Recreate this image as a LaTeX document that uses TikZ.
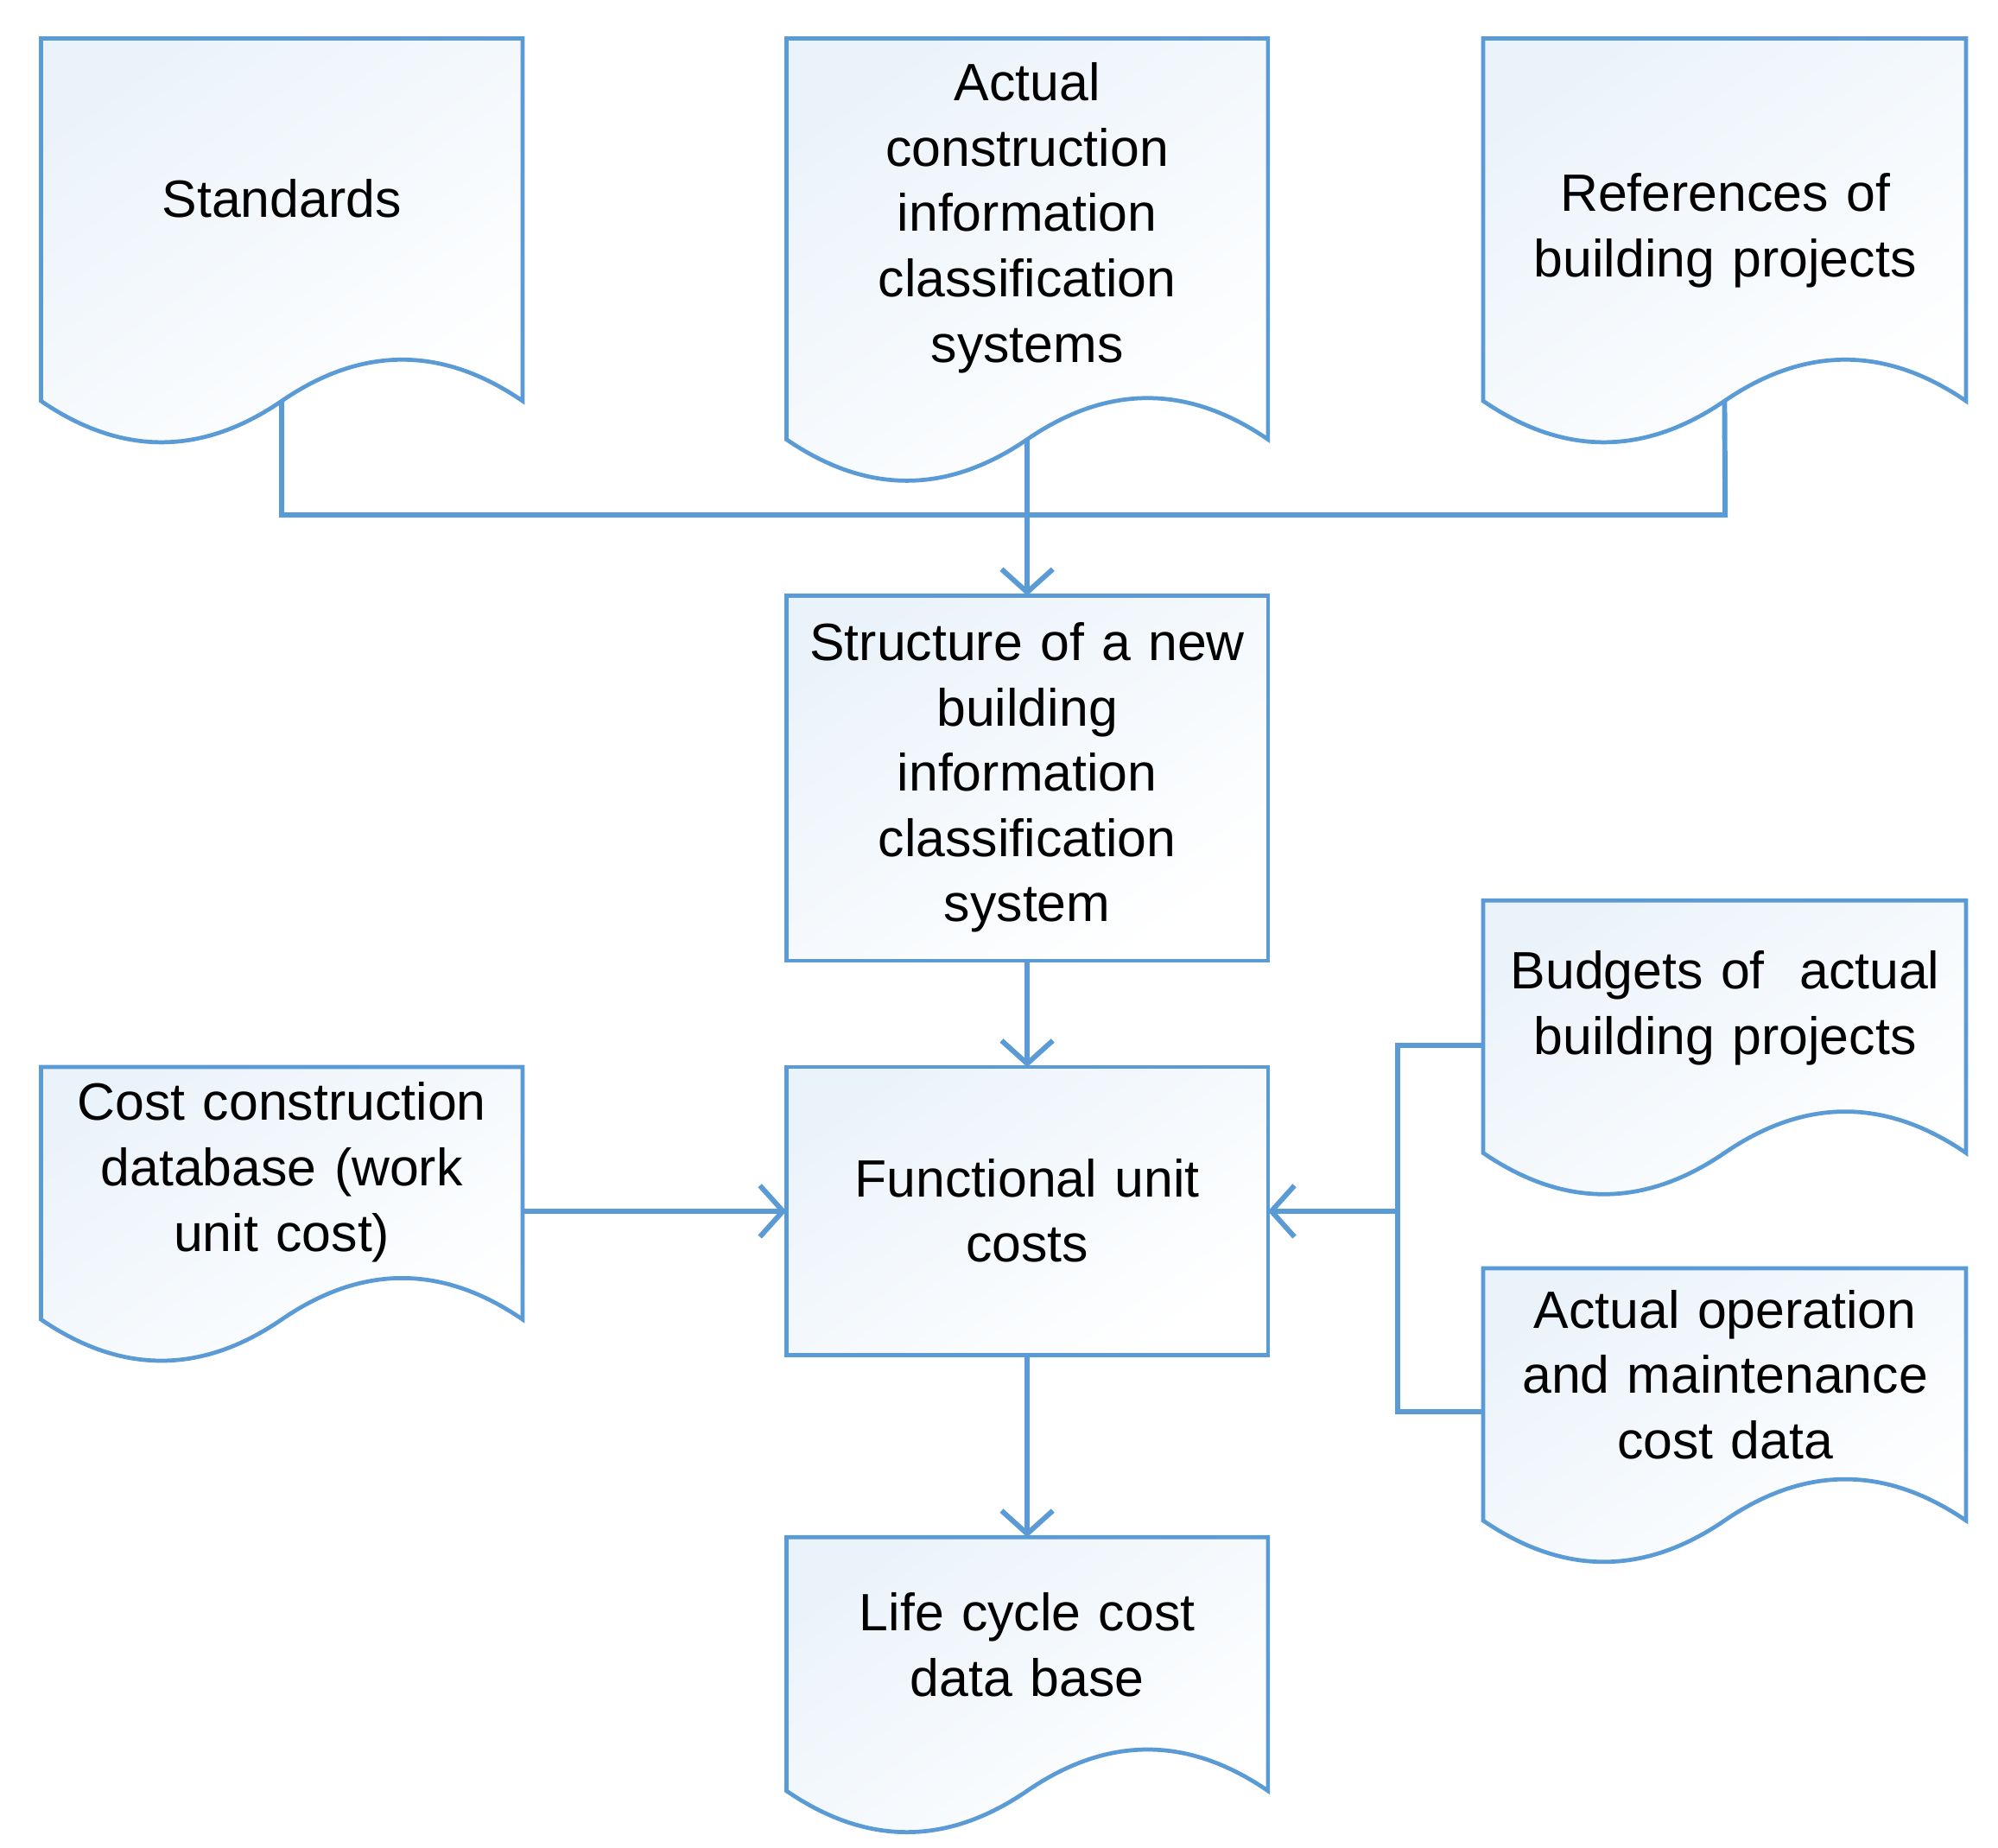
\documentclass[tikz,border=0pt]{standalone}
\usepackage{fontspec}
\setmainfont{Liberation Sans}
\usetikzlibrary{arrows.meta}
\definecolor{ln}{RGB}{91,155,213}
\tikzset{
  shp/.style={draw=ln,line width=1.6pt,shading=axis,top color=ln!12,bottom color=white,shading angle=35},
  txt/.style={align=center,font=\fontsize{20.5}{25.5}\selectfont,text width=175pt,inner sep=0pt},
  con/.style={draw=ln,line width=2pt},
  arr/.style={con,-{Straight Barb[length=9pt,width=20pt,line width=2pt]}}
}
% #1 name, #2 x0, #3 x1, #4 top, #5 yb
\newcommand{\docshp}[5]{%
  \pgfmathsetmacro{\xm}{(#2+#3)/2}%
  \pgfmathsetmacro{\qa}{#2+(#3-#2)/6}\pgfmathsetmacro{\qb}{#2+(#3-#2)/3}%
  \pgfmathsetmacro{\qc}{#2+2*(#3-#2)/3}\pgfmathsetmacro{\qd}{#2+5*(#3-#2)/6}%
  \path[shp] (#2,#4) -- (#3,#4) -- (#3,#5) .. controls (\qd,#5-43) and (\qc,#5-43) .. (\xm,#5)
     .. controls (\qb,#5+43) and (\qa,#5+43) .. (#2,#5) -- cycle;
  \coordinate (#1-w) at (\xm,#5);
  \coordinate (#1-top) at (\xm,#4);
  \coordinate (#1-l) at (#2,#4);
  \coordinate (#1-r) at (#3,#4);
}
% rectangle box: #1 name, #2 x0, #3 x1, #4 top, #5 bottom
\newcommand{\boxshp}[5]{%
  \path[shp] (#2,#4) rectangle (#3,#5);
  \pgfmathsetmacro{\xm}{(#2+#3)/2}\pgfmathsetmacro{\ym}{(#4+#5)/2}%
  \coordinate (#1-n) at (\xm,#4);
  \coordinate (#1-s) at (\xm,#5);
  \coordinate (#1-wst) at (#2,\ym);
  \coordinate (#1-est) at (#3,\ym);
}
\begin{document}
\begin{tikzpicture}[x=0.5pt,y=-0.5pt]
\useasboundingbox (0,0) rectangle (1560,1442);
\docshp{std}{32}{408}{30}{313}
\docshp{act}{614}{990}{30}{343}
\docshp{ref}{1158}{1535}{30}{313}
\docshp{ccd}{32}{408}{833}{1030}
\docshp{bud}{1158}{1535}{703}{900}
\docshp{aop}{1158}{1535}{990}{1187}
\docshp{lcc}{614}{990}{1200}{1398}
\boxshp{str}{614}{990}{465}{750}
\boxshp{fuc}{614}{990}{833}{1058}

\node[txt] (tstd) at (220,155) {Standards};
\node[txt] (tact) at (802,170) {Actual\\construction\\information\\classification\\systems};
\node[txt] (tref) at (1347,180) {References of\\building projects};
\node[txt] (tstr) at (802,607) {Structure of a new\\building\\information\\classification\\system};
\node[txt] (tfuc) at (802,945) {Functional unit\\costs};
\node[txt] (tccd) at (220,915) {Cost construction\\database (work\\unit cost)};
\node[txt] (tbud) at (1347,787) {Budgets of~~actual\\building projects};
\node[txt] (taop) at (1347,1073) {Actual operation\\and maintenance\\cost data};
\node[txt] (tlcc) at (802,1284) {Life cycle cost\\data base};

\coordinate (j1) at (220,402);
\coordinate (j2) at (1347,402);
\coordinate (jb) at (1091,816);
\coordinate (ja) at (1091,1102);
\draw[con] (std-w) -- (j1) -- (j2) -- (ref-w);
\draw[arr] (act-w) -- (str-n);
\draw[arr] (str-s) -- (fuc-n);
\draw[arr] (fuc-s) -- (lcc-top);
\draw[arr] (ccd-r |- fuc-wst) -- (fuc-wst);
\draw[con] (bud-l |- jb) -- (jb) -- (ja) -- (aop-l |- ja);
\draw[arr] (jb |- fuc-est) -- (fuc-est);
\end{tikzpicture}
\end{document}
